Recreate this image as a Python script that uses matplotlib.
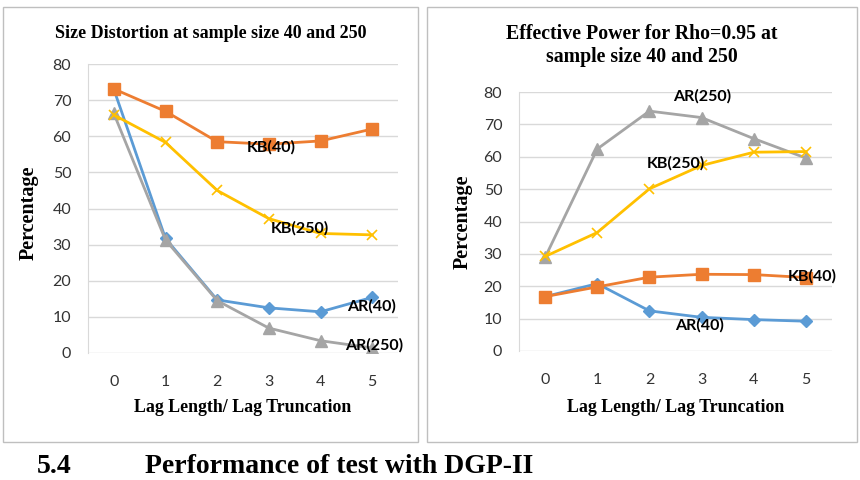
import matplotlib.pyplot as plt
from matplotlib.patches import Rectangle

lags = [0, 1, 2, 3, 4, 5]

# Size distortion (left panel)
size_ar40 = [73.0, 31.7, 14.7, 12.5, 11.4, 15.4]
size_kb40 = [73.1, 66.9, 58.5, 57.8, 58.7, 62.0]
size_ar250 = [66.3, 31.3, 14.5, 6.9, 3.4, 1.4]
size_kb250 = [65.9, 58.3, 45.0, 37.2, 33.1, 32.7]

# Effective power (right panel)
pow_ar40 = [16.8, 20.8, 12.4, 10.4, 9.7, 9.2]
pow_kb40 = [16.8, 19.8, 22.8, 23.7, 23.6, 22.7]
pow_ar250 = [28.9, 62.4, 74.1, 72.1, 65.6, 59.6]
pow_kb250 = [29.2, 36.6, 50.1, 57.3, 61.4, 61.6]

blue, orange, gray, yellow = '#5B9BD5', '#ED7D31', '#A5A5A5', '#FFC000'
serif = 'Liberation Serif'
sans = 'Lato'

W, H = 860, 480
fig = plt.figure(figsize=(8.6, 4.8), dpi=100)


def px(x0, y0, x1, y1):
    # pixel box (top-left origin) -> figure fraction rect
    return [x0 / W, 1 - y1 / H, (x1 - x0) / W, (y1 - y0) / H]


def draw(ax, ar40, kb40, ar250, kb250):
    ax.plot(lags, ar40, color=blue, lw=2, marker='D', ms=6, zorder=3)
    ax.plot(lags, kb40, color=orange, lw=2, marker='s', ms=8, zorder=3)
    ax.plot(lags, ar250, color=gray, lw=2, marker='^', ms=8, zorder=3)
    ax.plot(lags, kb250, color=yellow, lw=2, marker='x', ms=7, mew=1.2, zorder=3)
    ax.set_xlim(-0.5, 5.5)
    ax.set_ylim(0, 80)
    ax.set_xticks(lags)
    ax.set_yticks(range(0, 81, 10))
    ax.grid(axis='y', color='#D9D9D9', lw=1)
    ax.set_axisbelow(True)
    for s in ['top', 'right', 'bottom']:
        ax.spines[s].set_visible(False)
    ax.spines['left'].set_color('#D9D9D9')
    ax.tick_params(length=0, labelsize=11.5, colors='#333333')
    ax.tick_params(axis='y', pad=12)
    ax.tick_params(axis='x', pad=16)
    for t in ax.get_xticklabels() + ax.get_yticklabels():
        t.set_fontfamily(sans)


# panel borders
for box in [(3, 7, 418, 442), (427, 7, 857, 442)]:
    fig.patches.append(Rectangle((box[0] / W, 1 - box[3] / H), (box[2] - box[0]) / W,
                                 (box[3] - box[1]) / H, transform=fig.transFigure,
                                 fill=False, edgecolor='#BFBFBF', lw=1))

ax1 = fig.add_axes(px(88, 64, 398, 353))
draw(ax1, size_ar40, size_kb40, size_ar250, size_kb250)
lab = dict(fontfamily=sans, fontweight='bold', fontsize=11.5, ha='center', va='center', zorder=5)
ax1.text(3.05, 56.8, 'KB(40)', **lab)
ax1.text(3.61, 34.6, 'KB(250)', **lab)
ax1.text(4.98, 13.0, 'AR(40)', **lab)
ax1.text(5.04, 2.2, 'AR(250)', **lab)

ax2 = fig.add_axes(px(519, 92, 832, 351))
draw(ax2, pow_ar40, pow_kb40, pow_ar250, pow_kb250)
ax2.text(3.02, 78.7, 'AR(250)', **lab)
ax2.text(2.5, 58.1, 'KB(250)', **lab)
ax2.text(5.13, 23.0, 'KB(40)', **lab)
ax2.text(2.96, 8.0, 'AR(40)', **lab)

bold = dict(fontfamily=serif, fontweight='bold', ha='center', va='center')
fig.text(211 / W, 1 - 33 / H, 'Size Distortion at sample size 40 and 250', fontsize=13, **bold)
fig.text(642 / W, 1 - 45.5 / H, 'Effective Power for Rho=0.95 at\nsample size 40 and 250',
         fontsize=14.3, linespacing=1.15, **bold)

fig.text(243 / W, 1 - 408 / H, 'Lag Length/ Lag Truncation', fontsize=12.9, **bold)
fig.text(676 / W, 1 - 408 / H, 'Lag Length/ Lag Truncation', fontsize=12.9, **bold)
fig.text(29 / W, 1 - 213 / H, 'Percentage', rotation=90, fontsize=14.5, **bold)
fig.text(463 / W, 1 - 222 / H, 'Percentage', rotation=90, fontsize=14.5, **bold)

# heading below the charts (cropped in the source page)
fig.text(37 / W, 1 / H, '5.4', fontfamily=serif, fontweight='bold', fontsize=20, va='bottom')
fig.text(145 / W, 1 / H, 'Performance of test with DGP-II', fontfamily=serif,
         fontweight='bold', fontsize=20, va='bottom')

fig.savefig('out.png', dpi=100, facecolor='white')
